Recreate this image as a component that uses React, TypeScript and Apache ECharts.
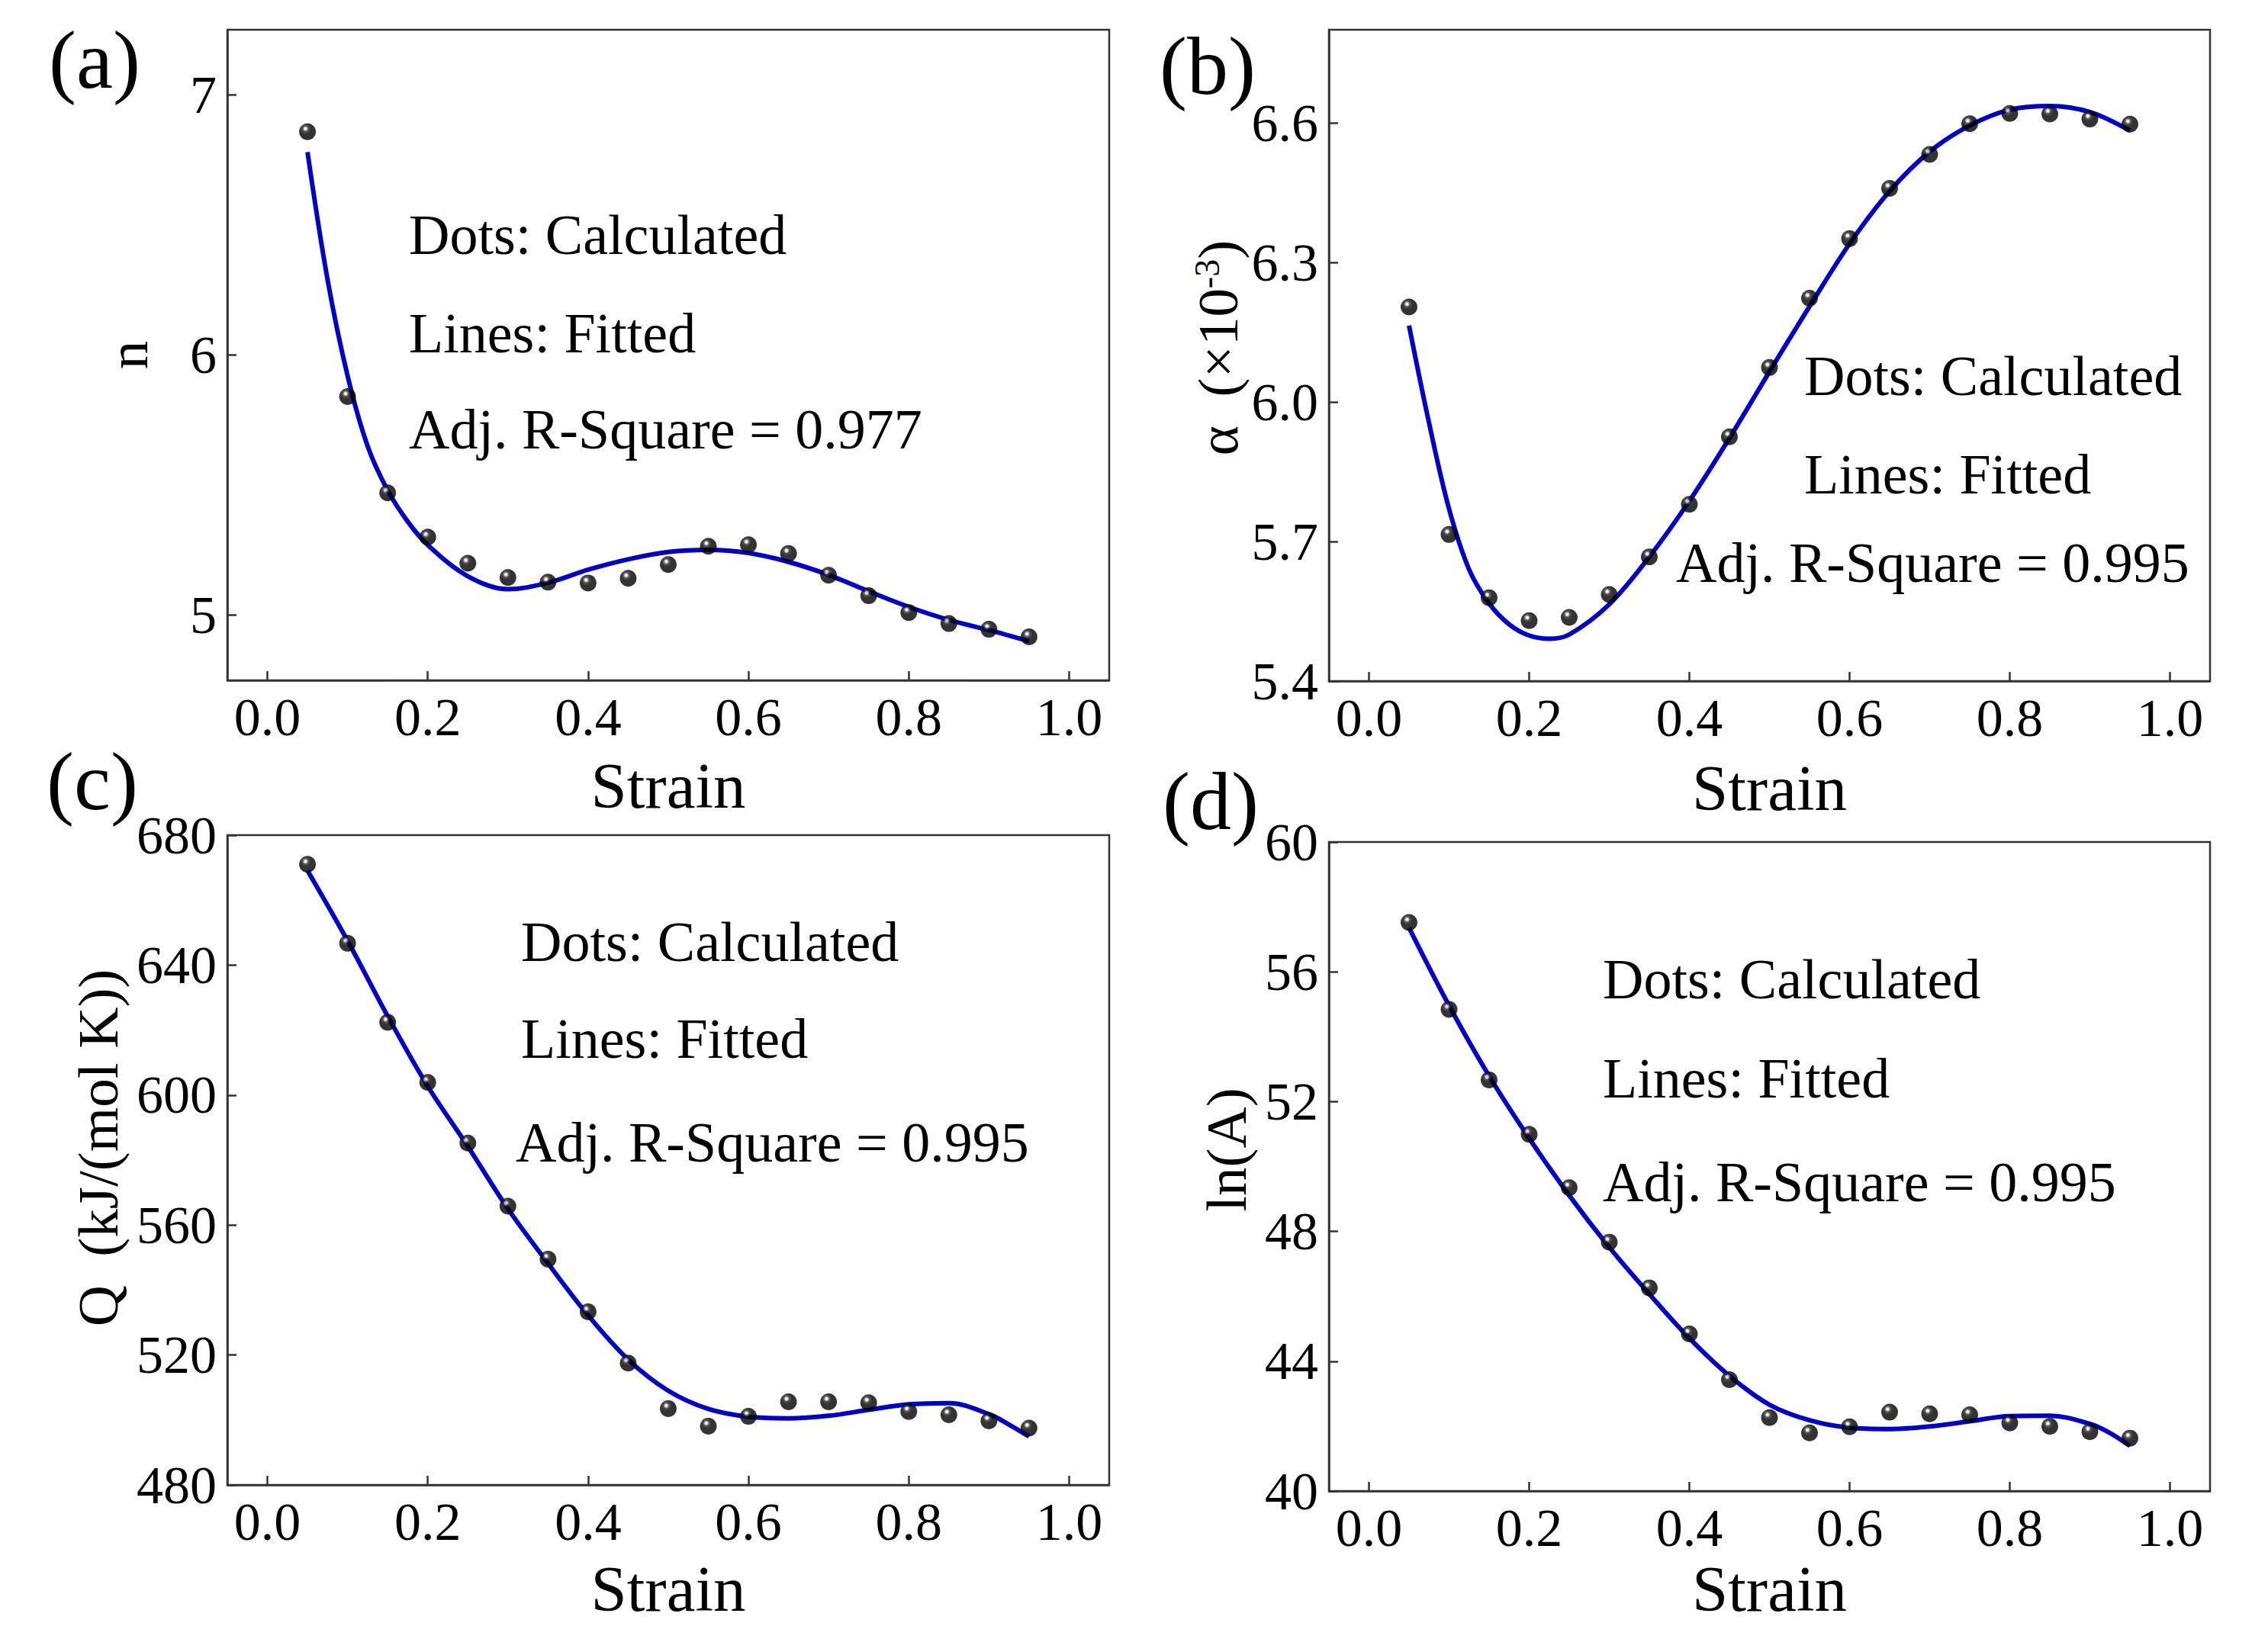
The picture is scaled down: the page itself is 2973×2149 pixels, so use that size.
import React, { useEffect, useRef } from "react";
import * as echarts from "echarts";

// ---------- data ----------
const STRAIN = [0.05, 0.1, 0.15, 0.2, 0.25, 0.3, 0.35, 0.4, 0.45, 0.5, 0.55, 0.6, 0.65, 0.7, 0.75, 0.8, 0.85, 0.9, 0.95];

// (a) n
const N_DOTS = [6.858, 5.84, 5.47, 5.3, 5.2, 5.145, 5.127, 5.124, 5.142, 5.195, 5.265, 5.271, 5.237, 5.154, 5.075, 5.01, 4.968, 4.946, 4.917];
const N_FIT_X = [0.05, 0.075, 0.1, 0.125, 0.15, 0.175, 0.2, 0.25, 0.3, 0.35, 0.4, 0.45, 0.5, 0.55, 0.6, 0.65, 0.7, 0.75, 0.8, 0.85, 0.9, 0.95];
const N_FIT_Y = [6.78, 6.29, 5.92, 5.65, 5.48, 5.36, 5.27, 5.15, 5.1, 5.125, 5.175, 5.215, 5.243, 5.251, 5.239, 5.205, 5.155, 5.092, 5.032, 4.982, 4.943, 4.9];

// (b) alpha (x10^-3)
const ALPHA_DOTS = [6.204, 5.715, 5.579, 5.53, 5.537, 5.586, 5.667, 5.78, 5.925, 6.074, 6.223, 6.351, 6.459, 6.532, 6.598, 6.62, 6.619, 6.608, 6.597];
const ALPHA_FIT_X = [0.05, 0.075, 0.1, 0.125, 0.15, 0.175, 0.2, 0.225, 0.25, 0.3, 0.35, 0.4, 0.45, 0.5, 0.55, 0.6, 0.65, 0.7, 0.75, 0.8, 0.85, 0.9, 0.95];
const ALPHA_FIT_Y = [6.164, 5.955, 5.77, 5.64, 5.567, 5.522, 5.498, 5.491, 5.5, 5.565, 5.667, 5.787, 5.922, 6.065, 6.205, 6.34, 6.453, 6.538, 6.594, 6.628, 6.636, 6.623, 6.583];

// (c) Q
const Q_DOTS = [671.0, 646.7, 622.4, 603.9, 585.2, 565.8, 549.5, 533.3, 517.5, 503.5, 498.1, 501.1, 505.6, 505.6, 505.3, 502.6, 501.6, 499.7, 497.5];
const Q_FIT_X = [0.05, 0.1, 0.15, 0.2, 0.25, 0.3, 0.35, 0.4, 0.45, 0.5, 0.55, 0.6, 0.65, 0.7, 0.75, 0.8, 0.85, 0.9, 0.925, 0.95];
const Q_FIT_Y = [669.1, 647.5, 624.3, 602.7, 584.2, 565.0, 548.2, 532.2, 518.6, 509.0, 503.4, 501.0, 500.5, 501.3, 503.1, 504.8, 505.2, 501.8, 498.6, 494.9];

// (d) ln(A)
const LNA_DOTS = [57.52, 54.84, 52.67, 50.99, 49.35, 47.67, 46.26, 44.84, 43.43, 42.26, 41.79, 41.98, 42.43, 42.38, 42.35, 42.1, 41.99, 41.83, 41.63];
const LNA_FIT_X = [0.05, 0.1, 0.15, 0.2, 0.25, 0.3, 0.35, 0.4, 0.45, 0.5, 0.55, 0.6, 0.65, 0.7, 0.75, 0.8, 0.85, 0.9, 0.925, 0.95];
const LNA_FIT_Y = [57.36, 54.96, 52.79, 50.87, 49.11, 47.51, 46.07, 44.71, 43.55, 42.66, 42.18, 41.95, 41.91, 41.99, 42.15, 42.31, 42.32, 42.07, 41.79, 41.39];

// tick labels
const X_TICKS = [0, 0.2, 0.4, 0.6, 0.8, 1.0];
const N_TICKS = [5, 6, 7];
const ALPHA_TICKS = [5.4, 5.7, 6.0, 6.3, 6.6];
const Q_TICKS = [480, 520, 560, 600, 640, 680];
const LNA_TICKS = [40, 44, 48, 52, 56, 60];

const PANEL_LABELS = ["(a)", "(b)", "(c)", "(d)"];
const ANNOT_LINE1 = "Dots: Calculated";
const ANNOT_LINE2 = "Lines: Fitted";
const R2 = ["0.977", "0.995", "0.995", "0.995"];

// ---------- styling ----------
const FONT = "'Liberation Serif', 'Times New Roman', serif";
const AXIS_COLOR = "#333";
const LINE_COLOR = "#0000cc";
const TICK_FS = 70;
const XNAME_FS = 85;
const YNAME_FS = 75;
const ANNOT_FS = 74;
const PANEL_FS = 108;

const GRIDS = [
  { left: 298, top: 39, width: 1156, height: 853 },
  { left: 1742, top: 39, width: 1155, height: 854 },
  { left: 298, top: 1095, width: 1156, height: 852 },
  { left: 1742, top: 1104, width: 1155, height: 851 },
];

const pairs = (xs: number[], ys: number[]) => xs.map((x, i) => [x, ys[i]]);

const dotStyle = {
  color: {
    type: "radial",
    x: 0.38,
    y: 0.32,
    r: 0.7,
    colorStops: [
      { offset: 0, color: "#ffffff" },
      { offset: 0.1, color: "#e6e6e6" },
      { offset: 0.24, color: "#2a2a2a" },
      { offset: 0.45, color: "#000000" },
      { offset: 1, color: "#000000" },
    ],
  },
};

function xAxis(gridIndex: number, nameGap: number) {
  return {
    type: "value",
    gridIndex,
    min: -0.05,
    max: 1.05,
    name: "Strain",
    nameLocation: "middle",
    nameGap,
    nameTextStyle: { fontFamily: FONT, fontSize: XNAME_FS, color: "#000" },
    axisLine: { show: true, onZero: false, lineStyle: { color: AXIS_COLOR, width: 2.5 } },
    axisTick: { show: true, inside: true, length: 12, customValues: X_TICKS, lineStyle: { color: AXIS_COLOR, width: 2.5 } },
    axisLabel: {
      customValues: X_TICKS,
      formatter: (v: number) => v.toFixed(1),
      fontFamily: FONT,
      fontSize: TICK_FS,
      color: "#000",
      margin: 13,
    },
    splitLine: { show: false },
  };
}

function yAxis(
  gridIndex: number,
  min: number,
  max: number,
  ticks: number[],
  digits: number,
  name: string,
  nameGap: number,
  shiftUp: number,
  rich?: any
) {
  return {
    type: "value",
    gridIndex,
    min,
    max,
    name,
    nameLocation: "middle",
    nameGap,
    nameTextStyle: {
      fontFamily: FONT,
      fontSize: YNAME_FS,
      color: "#000",
      padding: [0, 0, 0, shiftUp * 2],
      rich,
    },
    axisLine: { show: true, onZero: false, lineStyle: { color: AXIS_COLOR, width: 2.5 } },
    axisTick: { show: true, inside: true, length: 12, customValues: ticks, lineStyle: { color: AXIS_COLOR, width: 2.5 } },
    axisLabel: {
      customValues: ticks,
      formatter: (v: number) => v.toFixed(digits),
      fontFamily: FONT,
      fontSize: TICK_FS,
      color: "#000",
      margin: 14,
    },
    splitLine: { show: false },
  };
}

function seriesFor(idx: number, dots: number[], fitX: number[], fitY: number[]) {
  return [
    {
      type: "line",
      xAxisIndex: idx,
      yAxisIndex: idx,
      data: pairs(fitX, fitY),
      smooth: 0.35,
      showSymbol: false,
      symbol: "none",
      lineStyle: { color: LINE_COLOR, width: 6 },
      z: 2,
    },
    {
      type: "scatter",
      xAxisIndex: idx,
      yAxisIndex: idx,
      data: pairs(STRAIN, dots),
      symbol: "circle",
      symbolSize: 22,
      itemStyle: dotStyle,
      z: 3,
    },
  ];
}

function textEl(text: string, x: number, y: number, fontSize: number) {
  return {
    type: "text",
    x,
    y,
    silent: true,
    style: {
      text,
      x: 0,
      y: 0,
      fontFamily: FONT,
      fontSize,
      fill: "#000",
      align: "left",
      verticalAlign: "middle",
    },
  };
}

const ANNOT_POS = [
  { l1: [536, 308], l2: [536, 437], l3: [536, 563] },
  { l1: [2365, 493], l2: [2365, 622], l3: [2197, 738] },
  { l1: [683, 1235], l2: [683, 1362], l3: [676, 1498] },
  { l1: [2101, 1284], l2: [2101, 1414], l3: [2101, 1550] },
];
const PANEL_POS = [
  [64, 78],
  [1520, 86],
  [61, 1024],
  [1524, 1050],
];

export default function App() {
  const ref = useRef<HTMLDivElement>(null);

  useEffect(() => {
    if (!ref.current) return;
    const chart = echarts.init(ref.current, undefined, { renderer: "svg" });

    const graphics: any[] = [];
    ANNOT_POS.forEach((p, i) => {
      graphics.push(textEl(ANNOT_LINE1, p.l1[0], p.l1[1], ANNOT_FS));
      graphics.push(textEl(ANNOT_LINE2, p.l2[0], p.l2[1], ANNOT_FS));
      graphics.push(textEl("Adj. R-Square = " + R2[i], p.l3[0], p.l3[1], ANNOT_FS));
    });
    PANEL_POS.forEach((p, i) => graphics.push(textEl(PANEL_LABELS[i], p[0], p[1], PANEL_FS)));

    const alphaRich = {
      m: { fontFamily: FONT, fontSize: YNAME_FS, color: "#000" },
      s: { fontFamily: FONT, fontSize: 46, color: "#000", verticalAlign: "top" },
    };

    const option: any = {
      animation: false,
      backgroundColor: "#fff",
      grid: GRIDS.map((g) => ({
        ...g,
        show: true,
        borderColor: AXIS_COLOR,
        borderWidth: 2.5,
        backgroundColor: "transparent",
        containLabel: false,
        outerBoundsMode: "none",
      })),
      xAxis: [xAxis(0, 95), xAxis(1, 97), xAxis(2, 93), xAxis(3, 85)],
      yAxis: [
        yAxis(0, 4.75, 7.25, N_TICKS, 0, "n", 93, 0),
        yAxis(1, 5.4, 6.8, ALPHA_TICKS, 1, "{m|α  (×10}{s|-3}{m|)}", 108, 10, alphaRich),
        yAxis(2, 480, 680, Q_TICKS, 0, "Q  (kJ/(mol K))", 132, 16),
        yAxis(3, 40, 60, LNA_TICKS, 0, "ln(A)", 97, 22),
      ],
      series: [
        ...seriesFor(0, N_DOTS, N_FIT_X, N_FIT_Y),
        ...seriesFor(1, ALPHA_DOTS, ALPHA_FIT_X, ALPHA_FIT_Y),
        ...seriesFor(2, Q_DOTS, Q_FIT_X, Q_FIT_Y),
        ...seriesFor(3, LNA_DOTS, LNA_FIT_X, LNA_FIT_Y),
      ],
      graphic: graphics,
    };

    chart.setOption(option);
    return () => chart.dispose();
  }, []);

  return (
    <div
      ref={ref}
      style={{ position: "fixed", left: 0, top: 0, width: 2973, height: 2149, background: "#fff" }}
    />
  );
}
